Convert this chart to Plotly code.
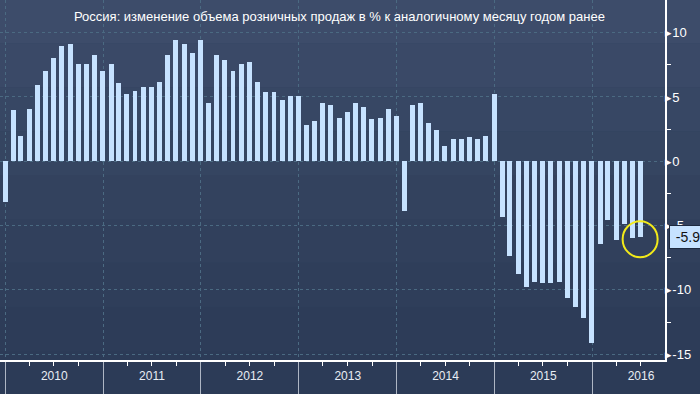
import pandas as pd
import plotly.graph_objects as go

# Data: monthly y/y retail sales change, % (bars plotted at month end)
dates = pd.date_range("2009-12-31", periods=79, freq="ME")
values = [
    -3.2, 4.0, 2.0, 4.1, 5.9, 7.0, 8.0, 9.0, 9.1, 7.6, 7.6, 8.3,
    7.0, 7.6, 6.1, 5.2, 5.5, 5.8, 5.8, 6.2, 8.3, 9.4, 9.1, 8.4,
    9.4, 4.5, 8.3, 7.9, 7.0, 7.6, 7.7, 6.2, 5.4, 5.4, 4.8, 5.1,
    5.1, 2.8, 3.1, 4.5, 4.4, 3.4, 3.8, 4.5, 4.2, 3.3, 3.4, 4.1,
    3.5, -3.9, 4.4, 4.5, 3.0, 2.4, 1.2, 1.7, 1.7, 1.9, 1.7, 2.0,
    5.2, -4.3, -7.4, -8.8, -9.8, -9.4, -9.5, -9.5, -9.4, -10.6, -11.3, -12.2,
    -14.1, -6.4, -4.6, -6.1, -4.9, -6.0, -5.9,
]
y_ticks = [10, 5, 0, -5, -10, -15]
y_ticktext = ["\u25B8" + str(v) for v in y_ticks]
title_text = "Россия: изменение объема розничных продаж в % к аналогичному месяцу годом ранее"
last_label = "\u2009-5.9"

FONT = "Liberation Sans"
BAR = "#c6e2ff"

fig = go.Figure()
fig.add_trace(go.Bar(
    x=dates, y=values,
    width=18.5 * 86400000,
    marker=dict(color=BAR, line=dict(width=0)),
    showlegend=False,
))

# background gradient bands (paper coordinates incl. margins)
bands = ["#3d4c6a", "#3a4967", "#374764", "#354561", "#33425e", "#31405c",
         "#2f3e5a", "#2d3c58", "#2c3b57"]
ytop, ybot = 1.0, -34 / 360
n = len(bands)
shapes = []
for i, c in enumerate(bands):
    y1 = ytop - (ytop - ybot) * i / n
    y0 = ytop - (ytop - ybot) * (i + 1) / n
    shapes.append(dict(type="rect", xref="paper", yref="paper",
                       x0=-0.01, x1=1.06, y0=y0, y1=y1,
                       fillcolor=c, line=dict(width=0), layer="below"))

# yellow highlight circle around last bar
shapes.append(dict(type="circle", xref="x", yref="y",
                   xsizemode="pixel", ysizemode="pixel",
                   xanchor=dates[-1], yanchor=values[-1],
                   x0=-18, x1=17, y0=-20, y1=16,
                   line=dict(color="#f2ea1a", width=2)))

fig.update_layout(
    width=700, height=394,
    margin=dict(l=0, r=35, t=0, b=34),
    paper_bgcolor="#33425e",
    plot_bgcolor="rgba(0,0,0,0)",
    shapes=shapes,
    font=dict(family=FONT, color="white"),
    bargap=0,
    annotations=[
        dict(text=title_text, xref="paper", yref="paper", x=0.51, y=0.953,
             xanchor="center", yanchor="middle", showarrow=False,
             font=dict(size=13, color="white", family=FONT)),
        dict(text=last_label, xref="paper", yref="y", x=1.006, y=values[-1],
             xanchor="left", yanchor="middle", showarrow=False,
             bgcolor=BAR, bordercolor="#1e2a40", borderwidth=1, borderpad=3,
             font=dict(size=14, color="#111111", family=FONT)),
    ],
)

fig.update_xaxes(
    type="date",
    range=["2009-12-12", "2016-09-29"],
    dtick="M12", tick0="2010-01-01",
    tickformat="%Y", ticklabelmode="period",
    ticks="outside", ticklen=34, tickwidth=1, tickcolor="#aeb6c4",
    ticklabelstandoff=-30,
    tickfont=dict(size=12, color="#e8edf4", family=FONT),
    showgrid=True, gridcolor="#4b6a82", griddash="dot", gridwidth=1,
    showline=True, linecolor="white", linewidth=1.5,
    minor=dict(dtick="M3", tick0="2010-01-01", ticks="outside", ticklen=4,
               tickcolor="white", showgrid=False),
    zeroline=False,
)

fig.update_yaxes(
    side="right",
    range=[-15.45, 12.54],
    tickvals=y_ticks, ticktext=y_ticktext,
    ticks="", ticklabelstandoff=-4,
    tickfont=dict(size=13, color="white", family=FONT),
    showgrid=True, gridcolor="#4b6a82", griddash="dot", gridwidth=1,
    showline=True, linecolor="white", linewidth=1.5,
    minor=dict(tickvals=[7.5, 2.5, -2.5, -7.5, -12.5], ticks="outside",
               ticklen=4, tickcolor="white", showgrid=False),
    zeroline=False,
)

fig.write_html("out.html")
